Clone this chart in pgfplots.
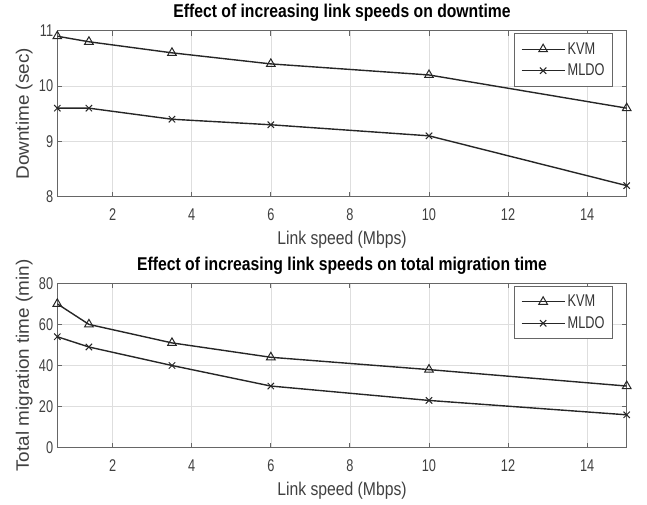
\documentclass[border=0pt]{standalone}
\usepackage{fontspec}
\setmainfont{Liberation Sans}
\newfontfamily\tickfont[FakeStretch=0.75]{Liberation Sans}
\newfontfamily\labfont[FakeStretch=0.85]{Liberation Sans}
\newfontfamily\ylabfont[FakeStretch=1.05]{Liberation Sans}
\usepackage{pgfplots}
\pgfplotsset{compat=1.18}

\pgfplotstableread{
x kvm mldo
0.6 10.9 9.6
1.4 10.8 9.6
3.5 10.6 9.4
6   10.4 9.3
10  10.2 9.1
15  9.6  8.2
}\downtime

\pgfplotstableread{
x kvm mldo
0.6 70 54
1.4 60 49
3.5 51 40
6   44 30
10  38 23
15  30 16
}\migration

\pgfplotsset{
  matstyle/.style={
    scale only axis,
    width=569.4pt,
    xmin=0.6, xmax=15,
    xtick={2,4,...,14},
    tick align=inside,
    major tick length=5pt,
    grid=major,
    major grid style={black!13, line width=0.6pt},
    axis line style={black!60, line width=0.9pt},
    every tick/.style={black!60, line width=0.9pt},
    /pgf/number format/assume math mode=true,
    ticklabel style={font=\tickfont\fontsize{17}{18}\selectfont, text=black!75},
    xticklabel style={anchor=center, inner sep=0pt, yshift=-18.3pt},
    yticklabel style={anchor=east, inner sep=0pt, xshift=-4pt},
    title style={font=\labfont\bfseries\fontsize{18.5}{20}\selectfont, at={(0.5,1)}, anchor=center, yshift=11.7pt},
    xlabel style={font=\labfont\fontsize{18.5}{20}\selectfont, text=black!75, at={(0.5,0)}, anchor=center, yshift=-43.5pt},
    ylabel style={font=\ylabfont\fontsize{18}{20}\selectfont, text=black!75, at={(axis description cs:-0.058,0.5)}, anchor=center},
    xlabel={Link speed (Mbps)},
    legend style={at={(0.9765,0.984)}, anchor=north east, draw=black!60, line width=0.9pt, fill=white,
      font=\tickfont\fontsize{17}{18}\selectfont, text=black!80,
      inner xsep=6pt, inner ysep=4.7pt,
      nodes={inner xsep=2.35pt, inner ysep=4.1pt},
      cells={anchor=west}},
    legend image code/.code={\draw[#1, line width=1.4pt, mark repeat=2, mark phase=2] plot coordinates {(0pt,0pt) (21.5pt,0pt) (43pt,0pt)};},
  },
  kvmstyle/.style={black!85, line width=1.4pt, mark=triangle, mark size=5pt, mark options={solid, line width=1pt, fill=none}},
  mldostyle/.style={black!85, line width=1.4pt, mark=x, mark size=4.5pt, mark options={solid, line width=1pt}},
}

\begin{document}
\begin{tikzpicture}
\path[use as bounding box] (0pt,0pt) rectangle (647pt,-505pt);
\begin{axis}[matstyle,
  at={(57.3pt,-30.7pt)}, anchor=north west,
  height=166pt,
  ymin=8, ymax=11, ytick={8,9,10,11},
  title={Effect of increasing link speeds on downtime},
  ylabel={Downtime (sec)},
]
\addplot[kvmstyle] table[x=x, y=kvm] {\downtime};
\addlegendentry{KVM}
\addplot[mldostyle] table[x=x, y=mldo] {\downtime};
\addlegendentry{MLDO}
\end{axis}
\begin{axis}[matstyle,
  at={(57.3pt,-283.3pt)}, anchor=north west,
  height=164.4pt,
  ymin=0, ymax=80, ytick={0,20,...,80},
  title={Effect of increasing link speeds on total migration time},
  ylabel={Total migration time (min)},
]
\addplot[kvmstyle] table[x=x, y=kvm] {\migration};
\addlegendentry{KVM}
\addplot[mldostyle] table[x=x, y=mldo] {\migration};
\addlegendentry{MLDO}
\end{axis}
\end{tikzpicture}
\end{document}
